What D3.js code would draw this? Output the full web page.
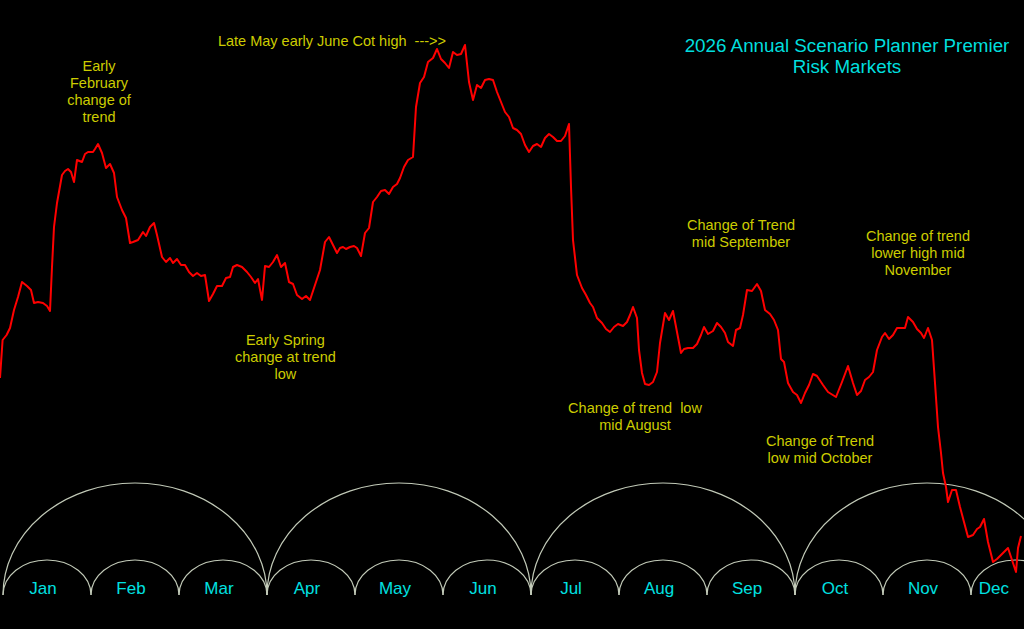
<!DOCTYPE html>
<html>
<head>
<meta charset="utf-8">
<script src="https://cdn.jsdelivr.net/npm/d3@7/dist/d3.min.js"></script>
<style>
  html, body { margin: 0; padding: 0; background: #000; }
  svg { display: block; }
  text { font-family: "Liberation Sans", Arial, sans-serif; white-space: pre; }
</style>
</head>
<body>
<div id="chart"></div>
<script>
// months shown along the bottom, 22 trading days each
var months = ["Jan", "Feb", "Mar", "Apr", "May", "Jun", "Jul", "Aug", "Sep", "Oct", "Nov", "Dec"];
var daysPerMonth = 22;

// scenario path: trading day index and index level
var tradingDay = [
  -0.75, -0.1, 0.9, 1.75, 2.75, 3.75, 4.75, 6, 7, 7.75, 8.75, 10, 11, 11.75, 12.25, 12.75, 13.5,
  14.75, 15.5, 16.25, 17, 17.75, 18.5, 19.75, 20.5, 21.25, 22.5, 23, 23.75, 24.75, 25.75, 26.75,
  27.75, 28.5, 29.75, 30.75, 31.75, 32.5, 33.75, 35, 35.75, 36.75, 37.75, 38.5, 39.75, 40.75,
  41.75, 42.5, 43.5, 44.5, 45.5, 46.5, 47.5, 48.5, 49.5, 50.5, 51.5, 52.5, 53.5, 54.75, 55.75,
  56.75, 57.5, 58.5, 59.75, 61, 62, 63, 63.75, 64.75, 65.5, 66.5, 67.5, 68.5, 69.5, 70.5, 71.5,
  72.5, 73.5, 74.75, 75.75, 76.75, 78, 79.25, 80.5, 81.5, 82.5, 83.5, 84.25, 85, 85.75, 86.75,
  87.75, 88.5, 89.5, 90.5, 91.5, 92.5, 93.5, 94.5, 95.5, 96.5, 97.5, 98.5, 99.25, 100.25, 101.25,
  102.5, 103.25, 104.25, 105.25, 106.25, 107.5, 108.5, 109.5, 110.5, 111.5, 112.5, 113.5, 114.5,
  115.5, 116.5, 117.5, 118.5, 119.5, 120.5, 121.5, 122.5, 123.5, 124.5, 125.5, 126.5, 127.5,
  128.5, 129.5, 130.5, 131.5, 132.5, 133.5, 134.5, 135.5, 136.5, 137.5, 138.5, 139.5, 140.5,
  141.5, 142, 142.5, 143.5, 144.75, 145.75, 146.75, 147.5, 148.5, 149.75, 150.75, 151.75, 152.75,
  153.75, 155, 156, 156.75, 157.5, 158.5, 159, 159.75, 160.5, 161.5, 162.5, 163.5, 164.25, 165.5,
  166.5, 167.5, 168.5, 169.5, 170.25, 171.25, 172.5, 173.5, 174.5, 175.25, 176.25, 177.5, 178.5,
  179.5, 180.5, 181.25, 182.5, 183.25, 184.25, 185, 186, 187.25, 188.5, 189.5, 190.5, 191.75,
  192.75, 193.75, 194.5, 195.25, 196.25, 197.5, 198.5, 199.5, 200.5, 201.5, 202.5, 203.5, 205,
  206.25, 208.25, 209.75, 211.25, 212.5, 213.5, 214.5, 215.5, 216.5, 217.5, 218.5, 219.75, 220.5,
  221.5, 222.5, 223.5, 224.5, 225.5, 226.25, 227.5, 228.5, 229.5, 230.25, 231.25, 232.25, 233,
  233.75, 234.5, 235, 235.75, 236.25, 237.25, 238.25, 239.25, 240.25, 241.25, 242.5, 243.5,
  244.25, 245.25, 246.25, 247.5, 248.5, 249.5, 250.5, 251.25, 252.25, 253.25, 253.75, 254.5
];
var riskIndex = [
  222, 260, 265, 272, 290, 303, 318, 314, 310, 297, 298, 297, 294, 289, 333, 373, 397,
  425, 429, 431, 428, 418, 440, 438, 446, 448, 448, 451, 456, 447, 432, 436,
  427, 403, 390, 382, 357, 358, 360, 368, 364, 373, 377, 365, 343, 338,
  342, 337, 341, 335, 335, 328, 324, 327, 324, 325, 299, 306, 314, 314, 322,
  323, 333, 335, 333, 328, 323, 317, 321, 300, 334, 333, 338, 345, 333, 337, 318,
  316, 305, 301, 304, 300, 315, 330, 358, 363, 355, 347, 352, 353, 351, 353,
  354, 352, 344, 367, 372, 398, 403, 409, 410, 406, 413, 416, 422, 433, 440,
  443, 493, 517, 523, 538, 542, 551, 541, 537, 532, 548, 545, 546,
  555, 518, 500, 515, 512, 520, 521, 520, 508, 498, 488, 483, 472,
  470, 466, 455, 448, 454, 456, 453, 462, 466, 463, 459, 459, 464,
  476, 413, 360, 325, 312, 305, 297, 293, 282, 277, 271, 268, 273,
  276, 274, 278, 285, 293, 282, 250, 227, 216, 215, 218, 228, 257, 287,
  280, 289, 268, 247, 251, 252, 252, 256, 265, 273, 266, 269, 277,
  273, 267, 258, 254, 270, 272, 285, 310, 309, 316, 309, 290, 286,
  280, 270, 241, 238, 217, 208, 205, 197, 207, 215, 226, 224, 215,
  208, 203, 218, 234, 217, 205, 209, 220, 223, 228, 250, 263, 267,
  261, 265, 272, 272, 272, 283, 278, 271, 267, 262, 272, 260, 217,
  173, 147, 127, 113, 98, 110, 110, 93, 78, 63, 65, 71,
  73, 81, 58, 38, 41, 45, 49, 52, 40, 28, 52, 64
];

// annotation text anchored to a trading day and index level
var noteText = [
  ["Early", "February", "change of", "trend"],
  ["Late May early June Cot high  --->>"],
  ["Early Spring", "change at trend", "low"],
  ["Change of trend  low", "mid August"],
  ["Change of Trend", "mid September"],
  ["Change of Trend", "low mid October"],
  ["Change of trend", "lower high mid", "November"]
];
var noteDay = [24, 110.75, 70.6, 158, 184.5, 204.25, 228.75];
var noteLevel = [529, 554, 255, 187, 370, 154, 359];
var noteAnchor = ["middle", "end", "middle", "middle", "middle", "middle", "middle"];

var titleLines = ["2026 Annual Scenario Planner Premier", "Risk Markets"];

var width = 1024, height = 629;
var baseY = 595;

var svg = d3.select("#chart").append("svg")
  .attr("width", width)
  .attr("height", height);

svg.append("rect")
  .attr("width", width)
  .attr("height", height)
  .attr("fill", "#000");

var x = d3.scaleLinear()
  .domain([0, months.length * daysPerMonth])
  .range([3, 1059]);

var y = d3.scaleLinear()
  .domain([0, 600])
  .range([600, 0]);

// cycle arcs: one per month, one per quarter
var arcs = svg.append("g")
  .attr("fill", "none")
  .attr("stroke", "#c2cab8")
  .attr("stroke-width", 1.2);

function arcPath(d0, d1, h) {
  var x0 = x(d0), x1 = x(d1);
  var rx = (x1 - x0) / 2;
  return "M" + x0 + "," + baseY + " A" + rx + "," + h + " 0 0 1 " + x1 + "," + baseY;
}

arcs.selectAll("path.month")
  .data(months)
  .enter()
  .append("path")
  .attr("class", "month")
  .attr("d", function (d, i) {
    return arcPath(i * daysPerMonth, (i + 1) * daysPerMonth, 35);
  });

arcs.selectAll("path.quarter")
  .data(d3.range(months.length / 3))
  .enter()
  .append("path")
  .attr("class", "quarter")
  .attr("d", function (q) {
    return arcPath(q * 3 * daysPerMonth, (q + 1) * 3 * daysPerMonth, 112);
  });

// month labels, a little left of each arc centre (kept inside the frame)
svg.append("g")
  .selectAll("text")
  .data(months)
  .enter()
  .append("text")
  .attr("y", 594)
  .attr("text-anchor", "middle")
  .attr("fill", "#00e1e1")
  .style("font-size", "17px")
  .text(function (d) { return d; })
  .attr("x", function (d, i) {
    var cx = x((i + 0.5) * daysPerMonth) - 4;
    var half = this.getComputedTextLength() / 2;
    return Math.min(cx, width - 15 - half);
  });

// scenario line
var points = tradingDay.map(function (d, i) { return [d, riskIndex[i]]; });

var line = d3.line()
  .x(function (d) { return x(d[0]); })
  .y(function (d) { return y(d[1]); });

svg.append("path")
  .datum(points)
  .attr("fill", "none")
  .attr("stroke", "#ff0000")
  .attr("stroke-width", 2)
  .attr("stroke-linejoin", "round")
  .attr("d", line);

// annotations
var notes = svg.append("g")
  .attr("fill", "#cccc00")
  .style("font-size", "14.5px");

noteText.forEach(function (lines, i) {
  var t = notes.append("text")
    .attr("text-anchor", noteAnchor[i])
    .attr("x", x(noteDay[i]))
    .attr("y", y(noteLevel[i]));
  lines.forEach(function (s, j) {
    t.append("tspan")
      .attr("x", x(noteDay[i]))
      .attr("dy", j === 0 ? 0 : 17)
      .text(s);
  });
});

// title
var title = svg.append("text")
  .attr("text-anchor", "middle")
  .attr("fill", "#00dede")
  .style("font-size", "18.8px")
  .attr("x", 847)
  .attr("y", 52);

titleLines.forEach(function (s, j) {
  title.append("tspan")
    .attr("x", 847)
    .attr("dy", j === 0 ? 0 : 21)
    .text(s);
});
</script>
</body>
</html>
